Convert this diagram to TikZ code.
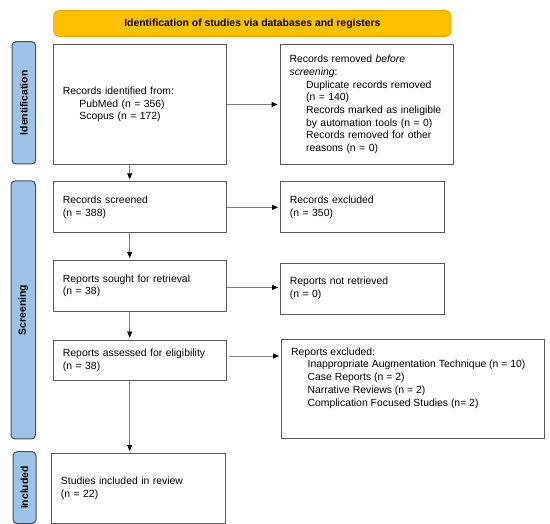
\documentclass[tikz,border=0pt]{standalone}
\usepackage{fontspec}
\setmainfont{Liberation Sans}
\usetikzlibrary{arrows.meta}
\definecolor{hdrfill}{HTML}{FFC000}
\definecolor{hdrdraw}{HTML}{E0A800}
\definecolor{sidefill}{HTML}{9DC3E6}
\definecolor{sidedraw}{HTML}{3F4F66}
\definecolor{boxgray}{HTML}{5A5A5A}
\definecolor{arrgray}{HTML}{808080}
\begin{document}
\begin{tikzpicture}[x=1pt,y=1pt,
  every node/.style={font=\fontsize{10.4}{12.7}\selectfont},
  box/.style={draw=boxgray, line width=0.9pt, inner xsep=9.5pt, inner ysep=0pt, align=left, anchor=north west},
  side/.style={draw=sidedraw, fill=sidefill, line width=1pt, rounded corners=4pt, rotate=90, inner sep=0pt, font=\fontsize{10.4}{12.7}\selectfont\bfseries},
  hdr/.style={draw=hdrdraw, fill=hdrfill, line width=0.8pt, rounded corners=5pt, inner sep=0pt, font=\fontsize{10.4}{12.7}\selectfont\bfseries},
  txt/.style={align=left, anchor=north west, inner sep=0pt},
  arr/.style={draw=arrgray, line width=0.8pt, -{Triangle[length=6pt,width=5pt,black]}, shorten >=2pt}
]
\useasboundingbox (0,0) rectangle (550,-524);
% header
\node[hdr, minimum width=397.3pt, minimum height=25.8pt] (hdr) at (252.35,-23.5) {Identification of studies via databases and registers};
% side labels
\node[side, minimum width=122.3pt, minimum height=23.7pt] (sid) at (23.85,-102.85) {Identification};
\node[side, minimum width=258pt, minimum height=24.5pt] (sscr) at (23.25,-310) {Screening};
\node[side, minimum width=71.8pt, minimum height=23pt] (sinc) at (24.5,-487.6) {Included};
% boxes
\newcommand{\ind}{\hspace*{16.5pt}}
\node[box, text width=154pt, minimum height=120pt] (b1) at (53,-44) {Records identified from:\\\ind PubMed (n = 356)\\\ind Scopus (n = 172)};
\node[box, text width=154pt, minimum height=120pt] (b2) at (279.6,-44) {Records removed \textit{before}\\\textit{screening}:\\\ind Duplicate records removed\\\ind (n = 140)\\\ind Records marked as ineligible\\\ind by automation tools (n = 0)\\\ind Records removed for other\\\ind reasons (n = 0)};
\node[box, text width=154pt, minimum height=51.2pt] (b3) at (53,-181.3) {Records screened\\(n = 388)};
\node[box, text width=145pt, minimum height=51.2pt] (b4) at (280,-181.3) {Records excluded\\(n = 350)};
\node[box, text width=154pt, minimum height=51pt] (b5) at (53,-260) {Reports sought for retrieval\\(n = 38)};
\node[box, text width=145pt, minimum height=51.2pt] (b6) at (280,-262.6) {Reports not retrieved\\(n = 0)};
\node[box, text width=154pt, minimum height=40.4pt] (b7) at (53,-339.6) {Reports assessed for eligibility\\(n = 38)};
\node[box, text width=244pt, minimum height=99pt] (b8) at (281,-339) {};
\node[txt] (b8t) at (291,-347.5) {Reports excluded:\\\ind Inappropriate Augmentation Technique (n = 10)\\\ind Case Reports (n = 2)\\\ind Narrative Reviews (n = 2)\\\ind Complication Focused Studies (n= 2)};
\node[box, text width=154.5pt, minimum height=70pt] (b9) at (51,-453) {Studies included in review\\(n = 22)};
% connectors
\coordinate (vx) at (129.7,0);
\draw[arr] (b1.east) -- (b1.east -| b2.west);
\draw[arr] (b3.east) -- (b3.east -| b4.west);
\draw[arr] (b5.east) ++(0,-1.5) coordinate (h5) (h5) -- (h5 -| b6.west);
\coordinate (h7) at (229,-356);
\draw[arr] (h7) -- (h7 -| b8.west);
\draw[arr] (vx |- b1.south) -- (vx |- b3.north);
\draw[arr] (vx |- b3.south) -- (vx |- b5.north);
\draw[arr] (vx |- b5.south) -- (vx |- b7.north);
\draw[arr] (vx |- b7.south) -- (vx |- b9.north);
\end{tikzpicture}
\end{document}
